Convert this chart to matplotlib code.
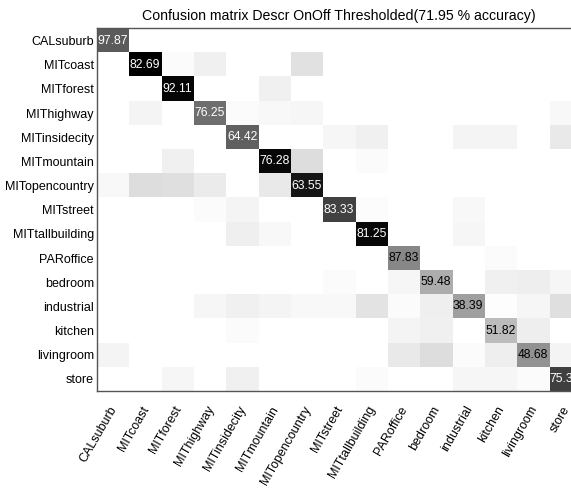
import matplotlib
matplotlib.use('Agg')
import matplotlib.pyplot as plt
import matplotlib.transforms as mtransforms
import numpy as np

plt.rcParams['font.family'] = ['Liberation Sans', 'DejaVu Sans']

classes = ['CALsuburb', 'MITcoast', 'MITforest', 'MIThighway', 'MITinsidecity',
           'MITmountain', 'MITopencountry', 'MITstreet', 'MITtallbuilding',
           'PARoffice', 'bedroom', 'industrial', 'kitchen', 'livingroom', 'store']

# diagonal accuracy (%) per class
diag_pct = [97.87, 82.69, 92.11, 76.25, 64.42, 76.28, 63.55, 83.33, 81.25,
            87.83, 59.48, 38.39, 51.82, 48.68, 75.35]

# estimated counts (cell shading)
counts = [
    [138, 0, 0, 0, 0, 0, 0, 0, 0, 0, 0, 0, 0, 0, 0],
    [0, 215, 4, 13, 0, 0, 26, 0, 0, 0, 0, 0, 0, 0, 0],
    [0, 0, 210, 0, 0, 13, 0, 0, 0, 0, 0, 0, 0, 0, 0],
    [0, 10, 0, 122, 4, 6, 8, 0, 0, 0, 0, 0, 0, 0, 6],
    [0, 0, 0, 0, 134, 0, 0, 8, 13, 0, 0, 10, 10, 0, 19],
    [0, 0, 13, 0, 0, 209, 29, 0, 4, 0, 0, 0, 0, 0, 0],
    [6, 29, 27, 17, 0, 19, 197, 0, 0, 0, 0, 0, 0, 0, 0],
    [0, 0, 0, 4, 10, 0, 0, 160, 3, 0, 0, 6, 0, 0, 0],
    [0, 0, 0, 0, 14, 6, 0, 0, 208, 0, 0, 8, 0, 0, 0],
    [0, 0, 0, 0, 0, 0, 0, 0, 0, 101, 0, 0, 4, 0, 0],
    [0, 0, 0, 0, 0, 0, 0, 4, 0, 8, 69, 0, 13, 15, 8],
    [0, 0, 0, 8, 13, 10, 6, 6, 24, 4, 14, 81, 2, 8, 27],
    [0, 0, 0, 0, 4, 0, 0, 0, 0, 10, 13, 0, 57, 15, 0],
    [10, 0, 0, 0, 0, 0, 0, 0, 0, 19, 29, 4, 15, 92, 10],
    [0, 0, 8, 0, 13, 0, 0, 0, 4, 0, 0, 8, 8, 4, 162],
]

title = 'Confusion matrix Descr OnOff Thresholded(71.95 % accuracy)'

cm = np.array(counts)
n = len(classes)

fig = plt.figure(figsize=(5.71, 4.90), dpi=100)
ax = fig.add_axes([0.1694, 0.202, 0.8485, 0.740])
ax.imshow(cm, cmap='gray_r', vmin=0, vmax=cm.max(), aspect='auto', interpolation='nearest')

thresh = cm.max() / 2.0
for i in range(n):
    ax.text(i, i, f'{diag_pct[i]:.2f}', ha='center', va='center', fontsize=8.7,
            color='white' if cm[i, i] > thresh else 'black')

ax.set_xticks(range(n))
ax.set_yticks(range(n))
ax.set_xticklabels(classes, rotation=60, ha='right', va='center', rotation_mode='anchor', fontsize=9)
ax.set_yticklabels(classes, fontsize=9)
ax.tick_params(length=0)
ax.tick_params(axis='x', pad=11.5)
ax.tick_params(axis='y', pad=2)

# nudge rotated labels slightly to the right
shift = mtransforms.ScaledTranslation(0.015, 0, fig.dpi_scale_trans)
for lab in ax.get_xticklabels():
    lab.set_transform(lab.get_transform() + shift)

for s in ax.spines.values():
    s.set_color('#555555')
    s.set_linewidth(1.0)

ax.set_title(title, fontsize=10.2, pad=6)

fig.savefig('out.png', dpi=100)
